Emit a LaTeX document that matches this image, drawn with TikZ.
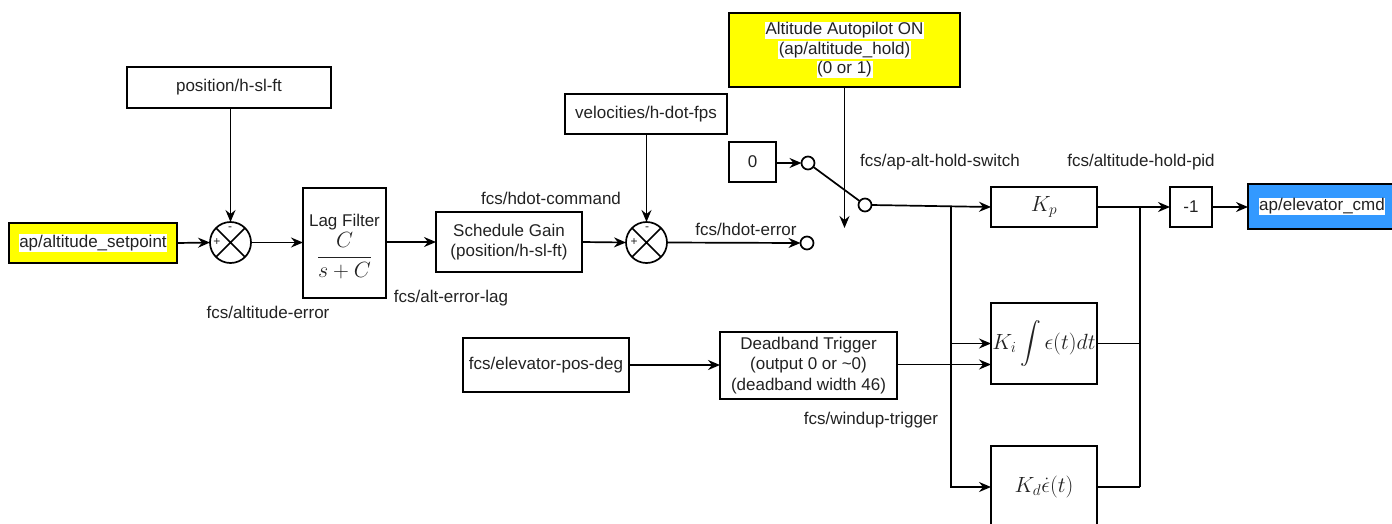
\RequirePackage{fix-cm}
\documentclass[tikz,border=0pt]{standalone}
\usepackage{amsmath}
\usepackage{fontspec}
\setmainfont{Liberation Sans}
\usetikzlibrary{arrows.meta}
\definecolor{apyellow}{HTML}{FFFF00}
\definecolor{apblue}{HTML}{3399FF}
\definecolor{txt}{HTML}{222222}
\newcommand\wbg[1]{{\setlength{\fboxsep}{0.6pt}\colorbox{white}{#1}}}
\newcommand\mth{\fontsize{22}{26}\selectfont}
\begin{document}
\begin{tikzpicture}[x=1pt,y=-1pt,
  font=\fontsize{17}{20.5}\selectfont, text=txt,
  blk/.style={draw, line width=1.7pt, rectangle, inner sep=0pt, outer sep=0pt, align=center},
  sumn/.style={draw, circle, line width=1.7pt, minimum size=41pt, inner sep=0pt, outer sep=0pt},
  port/.style={draw, circle, line width=1.7pt, minimum size=13pt, inner sep=0pt, outer sep=0pt},
  conn/.style={line width=1.7pt},
  arr/.style={conn, -{Stealth[length=12pt,width=10pt,inset=4pt]}},
  lbl/.style={inner sep=0pt},
  sgn/.style={inner sep=0pt, font=\fontsize{12}{12}\selectfont}]
\clip (0,0) rectangle (1392,523);

% blocks
\node[blk, minimum width=204, minimum height=41] (pos) at (229,87.5) {position/h-sl-ft};
\node[blk, fill=apyellow, minimum width=168, minimum height=40] (setp) at (93,243) {\wbg{ap/altitude\_setpoint}};
\node[sumn] (s1) at (230.5,242.5) {};
\node[blk, minimum width=83, minimum height=110] (lag) at (344.5,243) {};
\node[lbl] (lagt) at (344.5,222) {Lag Filter};
\node[lbl] (lagm) at (344.5,256) {\mth$\displaystyle\frac{C}{s+C}$};
\node[blk, minimum width=146, minimum height=60] (sched) at (509,242) {Schedule Gain\\(position/h-sl-ft)};
\node[blk, minimum width=162, minimum height=40] (vel) at (646,114) {velocities/h-dot-fps};
\node[sumn] (s2) at (646.5,242.5) {};
\node[port] (herr) at (807,243) {};
\node[blk, minimum width=47, minimum height=40] (zero) at (752.5,162) {0};
\node[port] (sw1) at (808,163) {};
\node[port] (sw2) at (865,205) {};
\node[blk, fill=apyellow, minimum width=231, minimum height=74] (ap) at (844.5,50)
  {\wbg{Altitude Autopilot ON}\\[-1pt]\wbg{(ap/altitude\_hold)}\\[-1pt]\wbg{(0 or 1)}};
\coordinate (apend) at (844.5,228);
\node[blk, minimum width=106, minimum height=40] (kp) at (1044,207) {\mth$K_p$};
\node[blk, minimum width=106, minimum height=81] (ki) at (1044,343.5) {\mth$K_i\displaystyle\int\epsilon(t)dt$};
\node[blk, minimum width=106, minimum height=82] (kd) at (1044,487) {\mth$K_d\dot{\epsilon}(t)$};
\node[blk, minimum width=42, minimum height=40] (neg) at (1191,207) {-1};
\node[blk, fill=apblue, minimum width=148, minimum height=45] (elev) at (1322,206.5) {\wbg{ap/elevator\_cmd}};
\node[blk, minimum width=166, minimum height=54] (epos) at (546,365) {fcs/elevator-pos-deg};
\node[blk, minimum width=177, minimum height=67] (dead) at (808.5,365.5)
  {Deadband Trigger\\(output 0 or \textasciitilde 0)\\(deadband width 46)};

% summing junction crosses and signs
\draw[conn] (s1.45) -- (s1.225) (s1.135) -- (s1.-45);
\draw[conn] (s2.45) -- (s2.225) (s2.135) -- (s2.-45);
\node[sgn] (s1m) at (230,229) {-};
\node[sgn] (s1p) at (217,242) {+};
\node[sgn] (s2m) at (647,229) {-};
\node[sgn] (s2p) at (634,242) {+};

% labels
\node[lbl] (l1) at (268,312) {fcs/altitude-error};
\node[lbl] (l2) at (451,298) {fcs/alt-error-lag};
\node[lbl] (l3) at (551,198) {fcs/hdot-command};
\node[lbl] (l4) at (746,229) {fcs/hdot-error};
\node[lbl] (l5) at (940,162) {fcs/ap-alt-hold-switch};
\node[lbl] (l6) at (1141,162) {fcs/altitude-hold-pid};
\node[lbl] (l7) at (871,420) {fcs/windup-trigger};

% connectors
\draw[arr] (pos.south -| s1.north) -- (s1.north);
\draw[arr] (setp.east) -- (s1.west);
\draw[arr] (s1.east) -- (lag.west |- s1.east);
\draw[arr] (lag.east |- sched.west) -- (sched.west);
\draw[arr] (sched.east) -- (s2.west);
\draw[arr] (vel.south -| s2.north) -- (s2.north);
\draw[arr] (s2.east) -- (herr.west);
\draw[arr] (zero.east |- sw1.west) -- (sw1.west);
\draw[conn] (sw1) -- (sw2);
\draw[arr] (ap.south) -- (apend);
\draw[arr] (sw2.east) -- (kp.west);
\coordinate (br) at (951,206.7);
\draw[arr] (br) |- (ki.west);
\draw[arr] (br) |- (kd.west);
\draw[arr] (epos.east) -- (dead.west |- epos.east);
\draw[arr] (dead.east |- 0,364.5) -- (ki.west |- 0,364.5);
\coordinate (m) at (1140,207);
\draw[arr] (kp.east) -- (neg.west);
\draw[conn] (ki.east) -- (ki.east -| m);
\draw[conn] (kd.east) -- (kd.east -| m);
\draw[conn] (m) -- (kd.east -| m);
\draw[arr] (neg.east) -- (elev.west |- neg.east);
\end{tikzpicture}
\end{document}
